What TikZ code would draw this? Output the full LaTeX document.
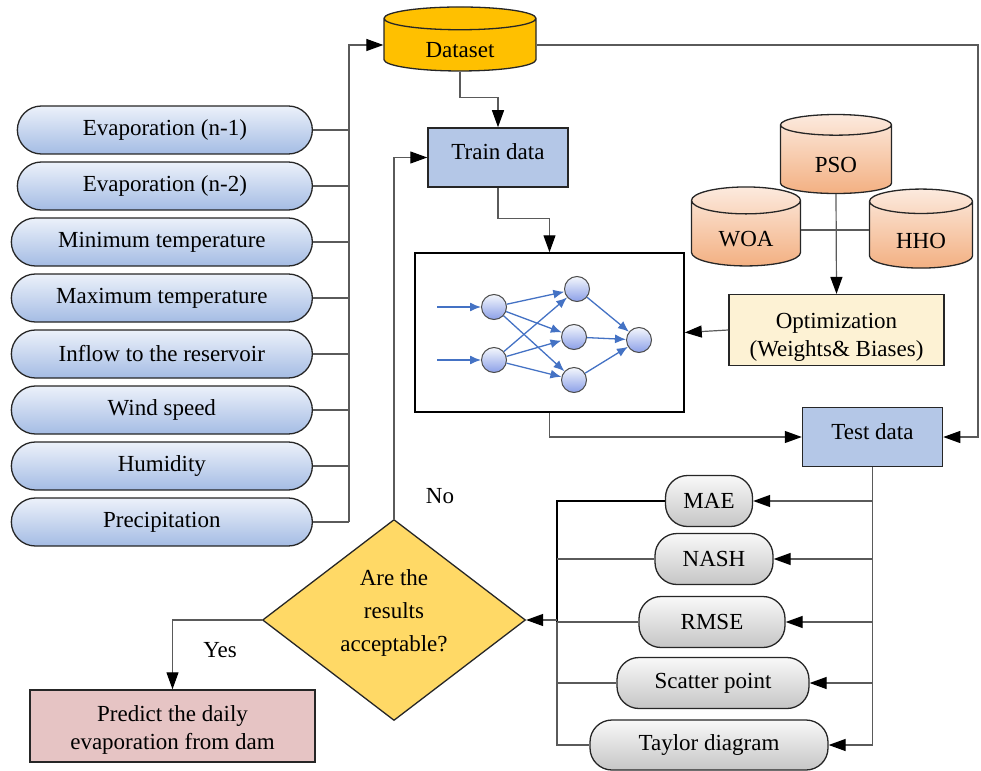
\documentclass[tikz,border=0pt]{standalone}
\usepackage{fontspec}
\setmainfont{Liberation Serif}
\usetikzlibrary{positioning,shapes.geometric,arrows.meta}

\definecolor{pilltop}{RGB}{236,241,250}
\definecolor{pillbot}{RGB}{164,188,228}
\definecolor{greytop}{RGB}{248,248,248}
\definecolor{greybot}{RGB}{198,198,198}
\definecolor{boxblue}{RGB}{180,199,231}
\definecolor{dsgold}{RGB}{255,192,0}
\definecolor{algtop}{RGB}{252,234,222}
\definecolor{algbot}{RGB}{243,176,130}
\definecolor{optfill}{RGB}{253,242,212}
\definecolor{decfill}{RGB}{255,217,102}
\definecolor{predfill}{RGB}{230,196,196}
\definecolor{nnblue}{RGB}{68,114,196}
\definecolor{linegrey}{RGB}{90,90,90}

\tikzset{
  every node/.style={font=\fontsize{23}{28}\selectfont},
  conn/.style={draw=linegrey, line width=1.2pt},
  arr/.style={conn, -{Triangle[length=17pt, width=12pt, color=black]}},
  inpill/.style={draw=black!85, line width=1.3pt, rounded corners=24pt,
    top color=pilltop, bottom color=pillbot, minimum width=301pt,
    minimum height=48pt, inner sep=0pt},
  metric/.style={draw=black!85, line width=1.3pt, rounded corners=22pt,
    top color=greytop, bottom color=greybot, minimum height=51pt,
    inner sep=0pt},
  databox/.style={draw=black!85, line width=1.5pt, fill=boxblue,
    minimum width=140pt, minimum height=59pt, text height=16pt,
    text depth=12pt},
  store/.style={cylinder, shape border rotate=90, draw=black!85,
    line width=1.3pt, inner sep=0pt, text height=26pt, text depth=0pt},
  algo/.style={store, top color=algtop, bottom color=algbot, aspect=0.49,
    minimum height=79pt},
  neuron/.style={circle, draw=black!70, line width=1pt, inner sep=0pt,
    minimum size=25pt, top color=pilltop!60!white, bottom color=pillbot!85!blue},
  nnarr/.style={draw=nnblue, line width=1.3pt,
    -{Latex[length=11pt, width=9pt]}},
  decision/.style={diamond, draw=black!85, line width=1.3pt, fill=decfill,
    minimum width=263pt, minimum height=201pt, inner sep=0pt, aspect=1.3,
    align=center, font=\fontsize{23}{33}\selectfont, text depth=19pt}
}

\begin{document}
\begin{tikzpicture}[x=1pt, y=-1pt]
  \useasboundingbox (0,0) rectangle (981,770);

  % input variables
  \node[inpill, minimum width=295pt, anchor=east] (evap1) at (313,130) {Evaporation (n-1)};
  \node[inpill, minimum width=295pt, below=6.7pt of evap1.south east, anchor=north east] (evap2) {Evaporation (n-2)};
  \node[inpill, below=6.7pt of evap2.south east, anchor=north east] (tmin) {Minimum temperature};
  \node[inpill, below=6.7pt of tmin.south east, anchor=north east] (tmax) {Maximum temperature};
  \node[inpill, below=6.7pt of tmax.south east, anchor=north east] (inflow) {Inflow to the reservoir};
  \node[inpill, below=6.7pt of inflow.south east, anchor=north east] (wind) {Wind speed};
  \node[inpill, below=6.7pt of wind.south east, anchor=north east] (humid) {Humidity};
  \node[inpill, below=6.7pt of humid.south east, anchor=north east] (precip) {Precipitation};

  \node[store, fill=dsgold, minimum width=152pt, minimum height=64pt, aspect=0.33] (dataset) at (460,45) {Dataset};
  \node[databox] (train) at (498,157.5) {Train data};
  \node[databox] (test) at (872.5,437) {Test data};

  % optimizers
  \node[algo, minimum width=111pt] (pso) at (836,159.5) {PSO};
  \node[algo, minimum width=109pt] (woa) at (746,233.5) {WOA};
  \node[algo, minimum width=103pt] (hho) at (921,235) {HHO};
  \node[draw=black!85, line width=1.5pt, fill=optfill, minimum width=215pt,
    minimum height=64pt, align=center, text height=58pt, text depth=6pt] (opt) at (836.5,330) {Optimization\\(Weights\& Biases)};

  % network
  \node[draw, line width=1.5pt, minimum width=269pt, minimum height=159pt] (nnbox) at (549.5,332.5) {};
  \node[neuron] (x1) at (494,307) {};
  \node[neuron] (x2) at (494,360) {};
  \node[neuron] (h1) at (577,289) {};
  \node[neuron] (h2) at (574,337) {};
  \node[neuron] (h3) at (574,380) {};
  \node[neuron] (y1) at (639,340) {};
  \coordinate (xin1) at (437,307);
  \coordinate (xin2) at (437,360);
  \draw[nnarr] (xin1) -- (x1);
  \draw[nnarr] (xin2) -- (x2);
  \draw[nnarr] (x1) -- (h1);
  \draw[nnarr] (x1) -- (h2);
  \draw[nnarr] (x1) -- (h3);
  \draw[nnarr] (x2) -- (h1);
  \draw[nnarr] (x2) -- (h2);
  \draw[nnarr] (x2) -- (h3);
  \draw[nnarr] (h1) -- (y1);
  \draw[nnarr] (h2) -- (y1);
  \draw[nnarr] (h3) -- (y1);

  % metrics
  \node[metric, minimum width=87pt] (mae) at (709,501) {MAE};
  \node[metric, minimum width=118pt] (nash) at (714,559) {NASH};
  \node[metric, minimum width=146pt] (rmse) at (712,622) {RMSE};
  \node[metric, minimum width=192pt] (scatter) at (713,683) {Scatter point};
  \node[metric, minimum width=238pt, minimum height=50pt] (taylor) at (709,745) {Taylor diagram};

  \node[decision] (accept) at (394,620) {Are the\\results\\acceptable?};
  \node[draw=black!85, line width=1.5pt, fill=predfill, minimum width=285pt,
    minimum height=72pt, align=center, text height=52pt, text depth=5pt] (predict) at (172.5,726) {Predict the daily\\evaporation from dam};
  \node (yes) at (220,650) {Yes};
  \node (no) at (440,496) {No};

  % connectors
  \coordinate (lbus) at (349,0);
  \coordinate (rbus) at (978,0);
  \coordinate (cbus) at (557,0);
  \coordinate (mbus) at (test.south);
  \coordinate (wjoin) at (836,230);
  \draw[conn] (evap1.east) -- (evap1.east -| lbus);
  \draw[conn] (evap2.east) -- (evap2.east -| lbus);
  \draw[conn] (tmin.east) -- (tmin.east -| lbus);
  \draw[conn] (tmax.east) -- (tmax.east -| lbus);
  \draw[conn] (inflow.east) -- (inflow.east -| lbus);
  \draw[conn] (wind.east) -- (wind.east -| lbus);
  \draw[conn] (humid.east) -- (humid.east -| lbus);
  \draw[conn] (precip.east) -- (precip.east -| lbus);
  \draw[arr] (precip.east -| lbus) |- (dataset.west);
  \draw[arr] (dataset.east) -- (dataset.east -| rbus) |- (test.east);
  \draw[arr] (dataset.south) -- ++(0,26) -| (train.north);
  \draw[arr] (train.south) -- ++(0,31) -| (nnbox.north);
  \draw[arr] (nnbox.south) |- (test.west);
  \draw[conn] (wjoin -| woa.east) -- (wjoin -| hho.west);
  \draw[arr] (pso.south) -- (opt.north);
  \draw[arr] (opt.west) -- (nnbox.east);

  \draw[arr] (test.south) |- (taylor.east);
  \draw[arr] (mae.east -| mbus) -- (mae.east);
  \draw[arr] (nash.east -| mbus) -- (nash.east);
  \draw[arr] (rmse.east -| mbus) -- (rmse.east);
  \draw[arr] (scatter.east -| mbus) -- (scatter.east);

  \draw[line width=2pt] (mae.west) -- (mae.west -| cbus) -- (rmse.west -| cbus);
  \draw[conn] (nash.west) -- (nash.west -| cbus);
  \draw[conn] (rmse.west) -- (rmse.west -| cbus);
  \draw[conn] (scatter.west) -- (scatter.west -| cbus);
  \draw[conn] (rmse.west -| cbus) -- (taylor.west -| cbus) -- (taylor.west);
  \draw[arr] (accept.east -| cbus) -- (accept.east);

  \draw[arr] (accept.west) -| (predict.north);
  \draw[arr] (accept.north) |- (train.west);
\end{tikzpicture}
\end{document}
